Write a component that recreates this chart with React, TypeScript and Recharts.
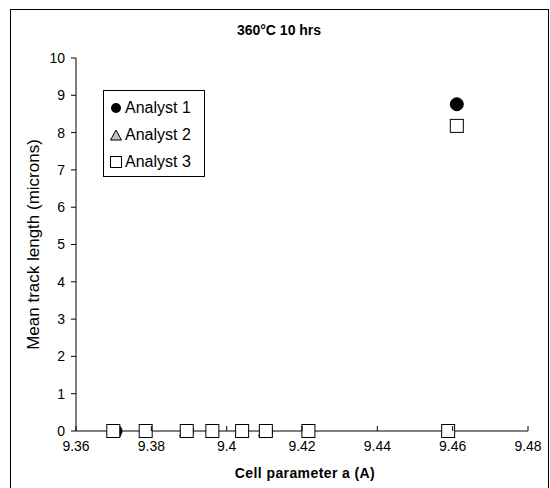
import React from 'react';
import { ScatterChart, Scatter, XAxis, YAxis, Legend } from 'recharts';

// values
const analyst1X = [9.3705, 9.3895, 9.4105, 9.4611];
const analyst1Y = [0, 0, 0, 8.76];
const analyst2X = [9.3702, 9.3892, 9.4102];
const analyst2Y = [0, 0, 0];
const analyst3X = [9.3699, 9.3785, 9.3894, 9.3962, 9.4041, 9.4104, 9.4217, 9.4588, 9.4611];
const analyst3Y = [0, 0, 0, 0, 0, 0, 0, 0, 8.18];

const xTicks = [9.36, 9.38, 9.4, 9.42, 9.44, 9.46, 9.48];
const yTicks = [0, 1, 2, 3, 4, 5, 6, 7, 8, 9, 10];
const seriesNames = ['Analyst 1', 'Analyst 2', 'Analyst 3'];

const FONT = '"Liberation Sans", Arial, sans-serif';

const toPoints = (xs: number[], ys: number[]) => xs.map((x, i) => ({ x, y: ys[i] }));

const data1 = toPoints(analyst1X, analyst1Y);
const data2 = toPoints(analyst2X, analyst2Y);
const data3 = toPoints(analyst3X, analyst3Y);

const fmtX = (v: number) => String(Number(v.toFixed(2)));

// marker shapes
const Dot = ({ cx, cy }: any) => <circle cx={cx} cy={cy} r={6.5} fill="#000" stroke="#000" />;
const Tri = ({ cx, cy }: any) => (
  <polygon
    points={`${cx},${cy - 6} ${cx - 6.5},${cy + 5} ${cx + 6.5},${cy + 5}`}
    fill="#c0c0c0"
    stroke="#000"
  />
);
const Sq = ({ cx, cy }: any) => (
  <rect x={cx - 6.5} y={cy - 6.5} width={13} height={13} fill="#fff" stroke="#000" />
);

// x ticks point inward (up)
const XTick = (props: any) => {
  const { x, y, payload } = props;
  return (
    <g>
      <line x1={x} x2={x} y1={y - 4} y2={y - 9} stroke="#000" />
      <text x={x} y={y + 16} textAnchor="middle" fontSize={14} fontFamily={FONT} fill="#000">
        {fmtX(payload.value)}
      </text>
    </g>
  );
};

const legendMarkers = [
  <svg width={14} height={14}><circle cx={7} cy={7} r={5} fill="#000" /></svg>,
  <svg width={14} height={14}><polygon points="7,2 1.5,12 12.5,12" fill="#c0c0c0" stroke="#000" /></svg>,
  <svg width={14} height={14}><rect x={1.5} y={1.5} width={11} height={11} fill="#fff" stroke="#000" /></svg>,
];

// zero-height wrapper so the legend doesn't shrink the plot
const LegendBox = () => (
  <div style={{ height: 0, position: 'relative' }}>
    <div
      style={{
        position: 'absolute',
        left: 0,
        top: 0,
        border: '1px solid #000',
        background: '#fff',
        width: 102,
        height: 87,
        boxSizing: 'border-box',
        padding: '3px 0 0 5px',
        fontFamily: FONT,
        fontSize: 16,
        color: '#000',
      }}
    >
      {seriesNames.map((n, i) => (
        <div key={n} style={{ display: 'flex', alignItems: 'center', height: 27 }}>
          {legendMarkers[i]}
          <span style={{ marginLeft: 2 }}>{n}</span>
        </div>
      ))}
    </div>
  </div>
);

export default function App() {
  return (
    <div style={{ position: 'absolute', left: 0, top: 0, width: 550, height: 488, background: '#fff', overflow: 'hidden' }}>
      <div
        style={{
          position: 'absolute',
          left: 10,
          top: 9,
          width: 539,
          height: 490,
          border: '1px solid #000',
          boxSizing: 'border-box',
        }}
      />
      <div
        style={{
          position: 'absolute',
          left: 0,
          top: 22,
          width: 558,
          textAlign: 'center',
          fontFamily: FONT,
          fontWeight: 'bold',
          fontSize: 14,
        }}
      >
        360°C 10 hrs
      </div>
      <ScatterChart width={550} height={488} margin={{ top: 58, right: 22, bottom: 0, left: 0 }}>
        <XAxis
          dataKey="x"
          type="number"
          domain={[9.36, 9.48]}
          ticks={xTicks}
          allowDataOverflow
          height={57}
          tickSize={0}
          tickMargin={4}
          tickLine={false}
          tick={<XTick />}
          axisLine={{ stroke: '#000' }}
          label={{
            value: 'Cell parameter a (A)',
            position: 'insideBottom',
            offset: 10,
            dx: 3,
            style: { fontFamily: FONT, fontWeight: 'bold', fontSize: 14, fill: '#000', letterSpacing: 0.4 },
          }}
        />
        <XAxis xAxisId="top" orientation="top" type="number" domain={[9.36, 9.48]} height={0} tick={false} tickLine={false} axisLine={{ stroke: '#000' }} />
        <YAxis
          dataKey="y"
          type="number"
          domain={[0, 10]}
          ticks={yTicks}
          width={76}
          tickSize={5}
          tickMargin={6}
          tickLine={{ stroke: '#000' }}
          axisLine={{ stroke: '#000' }}
          tick={{ fontSize: 14, fontFamily: FONT, fill: '#000' }}
          label={{
            value: 'Mean track length (microns)',
            angle: -90,
            position: 'center',
            dx: -5,
            style: { fontFamily: FONT, fontSize: 17, fill: '#000', textAnchor: 'middle' },
          }}
        />
        <YAxis yAxisId="right" orientation="right" type="number" domain={[0, 10]} width={0} tick={false} tickLine={false} axisLine={{ stroke: '#000' }} />
        <Legend
          content={<LegendBox />}
          wrapperStyle={{ position: 'absolute', left: 103, top: 90, width: 102, height: 0 }}
        />
        <Scatter name="Analyst 1" data={data1} shape={<Dot />} isAnimationActive={false} />
        <Scatter name="Analyst 2" data={data2} shape={<Tri />} isAnimationActive={false} />
        <Scatter name="Analyst 3" data={data3} shape={<Sq />} isAnimationActive={false} />
      </ScatterChart>
    </div>
  );
}
